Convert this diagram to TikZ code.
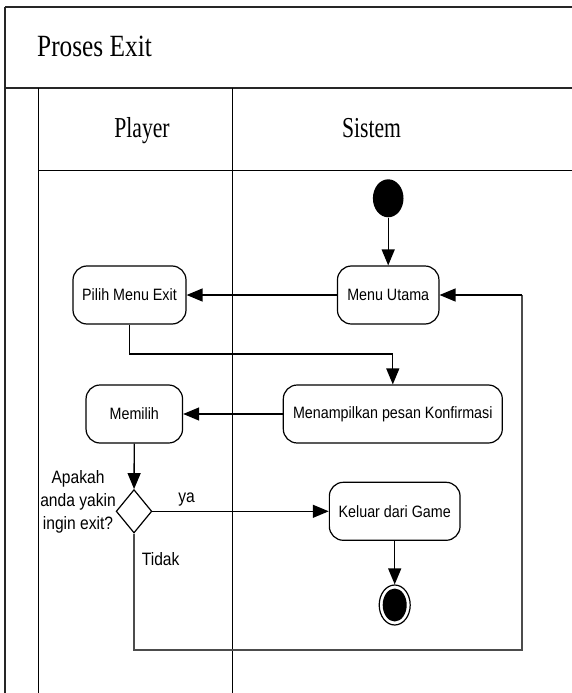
\documentclass[tikz,border=0pt]{standalone}
\usepackage{fontspec}
\newfontfamily\titlefont[FakeStretch=0.82]{Liberation Serif}
\newfontfamily\lanefont[FakeStretch=0.75]{Liberation Serif}
\newfontfamily\boxfont[FakeStretch=0.87]{Liberation Sans}
\usetikzlibrary{arrows.meta,shapes.geometric}
\begin{document}
\begin{tikzpicture}[x=1bp,y=-1bp,
  frameline/.style={line width=1.5bp, draw=black!85},
  laneline/.style={line width=1bp, draw=black},
  actbox/.style={draw, line width=1.2bp, rounded corners=14bp, minimum height=58bp, inner sep=0, font=\boxfont\fontsize{16.5}{19}\selectfont},
  conn/.style={line width=1.3bp, draw=black},
  loopline/.style={line width=2bp, draw=black!70},
  arr/.style={-{Triangle[length=16bp,width=13bp]}},
  lbl/.style={font=\boxfont\fontsize{18}{23}\selectfont, inner sep=0},
  lanetitle/.style={anchor=base, inner sep=0, font=\lanefont\fontsize{29}{29}\selectfont}
]
\useasboundingbox (0,0) rectangle (572,693);
\fill[white] (0,0) rectangle (572,693);

% frame and swimlanes
\draw[frameline] (5,7) -- (572,7);
\draw[frameline] (5,7) -- (5,693);
\draw[frameline, line width=2bp] (5,88) -- (572,88);
\draw[laneline] (38,88) -- (38,693);
\draw[laneline] (232,88) -- (232,693);
\draw[laneline] (38,170) -- (572,170);

\node[anchor=base west, inner sep=0, font=\titlefont\fontsize{31}{31}\selectfont] (title) at (37,57) {Proses Exit};
\node[lanetitle] (player) at (142,138) {Player};
\node[lanetitle] (sistem) at (371.5,138) {Sistem};

% activities
\node[ellipse, fill=black, minimum width=30.6bp, minimum height=38bp, inner sep=0] (start) at (388.2,198.3) {};
\node[actbox, minimum width=101.5bp] (menu) at (388.2,295) {Menu Utama};
\node[actbox, minimum width=113bp] (pilih) at (129.5,295) {Pilih Menu Exit};
\node[actbox, minimum width=219bp] (tampil) at (392.8,414) {Menampilkan pesan Konfirmasi};
\node[actbox, minimum width=96.5bp] (pilihan) at (134.3,414) {Memilih};
\node[diamond, draw, line width=1.2bp, minimum width=35.7bp, minimum height=43.4bp, inner sep=0] (dec) at (134,511.3) {};
\node[actbox, minimum width=130.7bp] (keluar) at (394.7,511.3) {Keluar dari Game};
\node[ellipse, draw, line width=1.2bp, minimum width=31bp, minimum height=40bp, inner sep=0,
  path picture={\fill[black] (path picture bounding box.center) ellipse [x radius=12bp, y radius=16.5bp];}] (end) at (394.7,605) {};

% labels
\node[lbl, anchor=base] (ya) at (186.5,502.5) {ya};
\node[lbl, anchor=base west] (tidak) at (141.7,565.5) {Tidak};
\node[lbl, align=center] (tanya) at (78,501.5) {Apakah\\anda yakin\\ingin exit?};

% connectors
\coordinate (bend1) at (129.5,354);
\coordinate (loopBR) at (522,650);
\coordinate (loopTR) at (menu.east -| loopBR);
\draw[conn, arr] (start) -- (menu);
\draw[conn, arr] (menu) -- (pilih);
\draw[conn, arr] (pilih.south) -- (bend1) -| (tampil.north);
\draw[conn, arr] (tampil.west) -- (pilihan.east);
\draw[conn, arr] (pilihan) -- (dec);
\draw[conn, arr] (dec.east) -- (keluar.west);
\draw[conn, arr] (keluar) -- (end);
\draw[loopline] (dec.south) |- (loopBR) -- (loopTR);
\draw[conn, arr] (loopTR) -- (menu.east);
\end{tikzpicture}
\end{document}
